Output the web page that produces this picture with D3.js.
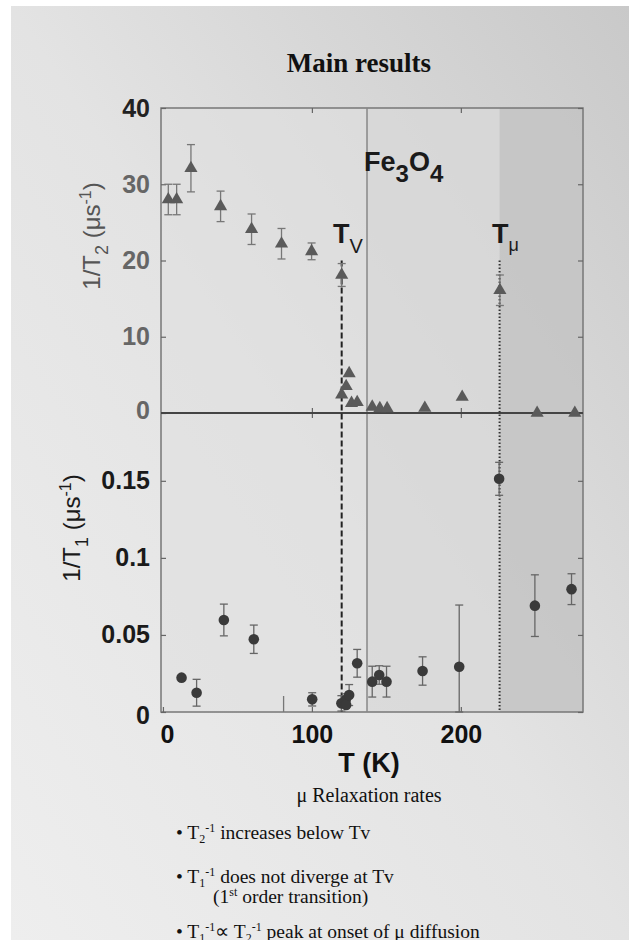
<!DOCTYPE html>
<html>
<head>
<meta charset="utf-8">
<script src="https://cdn.jsdelivr.net/npm/d3@7"></script>
<style>
  body { margin: 0; background: #fff; }
  svg { display: block; }
</style>
</head>
<body>
<div id="chart"></div>
<script>
var width = 629;
var height = 940;

// 1/T2 data (triangles)
var t2Temp = [3.6, 9.2, 18.8, 38.7, 59.5, 79.6, 99.8, 120, 120, 123, 125, 126.6, 130.4, 140.5, 145.6, 150.5, 175.8, 200.9, 226.2, 251.2, 276.5];
var t2Rate = [28, 28, 32.1, 27.1, 24.1, 22.2, 21.2, 18.1, 2.4, 3.5, 5.2, 1.3, 1.4, 0.8, 0.6, 0.6, 0.65, 2.1, 16.1, 0, 0];
var t2Err  = [2, 2, 3.1, 2, 2, 2, 1.1, 1.5, 0, 0, 0, 0, 0, 0, 0, 0, 0, 0, 2, 0, 0];

// 1/T1 data (circles)
var t1Temp  = [12.5, 22.6, 40.9, 61, 100.2, 119.8, 122.7, 123, 125, 130.4, 140.5, 145.2, 150.1, 174.3, 198.9, 225.7, 249.7, 274.3];
var t1Rate  = [0.0223, 0.0125, 0.0597, 0.0472, 0.0082, 0.0056, 0.0078, 0.0045, 0.011, 0.0316, 0.0197, 0.024, 0.0197, 0.0266, 0.0294, 0.1513, 0.069, 0.0797];
var t1ErrLo = [0, 0.0087, 0.0103, 0.0092, 0.0043, 0.005, 0.004, 0, 0.0068, 0.009, 0.01, 0.006, 0.01, 0.0092, 0.0294, 0.0107, 0.02, 0.01];
var t1ErrHi = [0, 0.0087, 0.0103, 0.0092, 0.0043, 0.005, 0.004, 0, 0.0068, 0.009, 0.01, 0.006, 0.01, 0.0092, 0.040, 0.0107, 0.02, 0.01];
// lone error bar with no visible marker
var strayTemp = [81];
var strayHi = [0.0104];

var tV = 120, tMu = 226, tFe = 137;
var xTicks = [0, 100, 200];
var t2Ticks = [0, 10, 20, 30, 40];
var t1Ticks = [0, 0.05, 0.1, 0.15];

var plotLeft = 161, plotRight = 583, plotTop = 108, plotMid = 413, plotBottom = 712;

var svg = d3.select("#chart").append("svg")
    .attr("width", width)
    .attr("height", height);

var defs = svg.append("defs");
var pg = defs.append("linearGradient").attr("id", "page")
    .attr("x1", "0").attr("y1", "1").attr("x2", "1").attr("y2", "0");
pg.append("stop").attr("offset", "0").attr("stop-color", "#eeeeee");
pg.append("stop").attr("offset", "0.5").attr("stop-color", "#e3e3e3");
pg.append("stop").attr("offset", "1").attr("stop-color", "#c9c9c9");

svg.append("rect").attr("width", width).attr("height", height).attr("fill", "#fff");
svg.append("rect").attr("x", 11).attr("y", 6).attr("width", width - 11).attr("height", height - 6)
    .attr("fill", "url(#page)");

var xScale = d3.scaleLinear().domain([-1.3, 282]).range([plotLeft, plotRight]);
var y2Scale = d3.scaleLinear().domain([0, 40]).range([plotMid, plotTop]);
var y1Scale = d3.scaleLinear().domain([0, 0.194]).range([plotBottom, plotMid]);

// plot background
svg.append("rect").attr("x", plotLeft).attr("y", plotTop)
    .attr("width", plotRight - plotLeft).attr("height", plotBottom - plotTop)
    .attr("fill", "#dfdfdf").attr("fill-opacity", 0.6);
svg.append("rect").attr("x", xScale(tFe)).attr("y", plotTop)
    .attr("width", xScale(tMu) - xScale(tFe)).attr("height", plotBottom - plotTop)
    .attr("fill", "#d4d4d4").attr("fill-opacity", 0.5);
svg.append("rect").attr("x", xScale(tMu)).attr("y", plotTop)
    .attr("width", plotRight - xScale(tMu)).attr("height", plotBottom - plotTop)
    .attr("fill", "#bdbdbd").attr("fill-opacity", 0.7);

// frame
svg.append("rect").attr("x", plotLeft).attr("y", plotTop)
    .attr("width", plotRight - plotLeft).attr("height", plotBottom - plotTop)
    .attr("fill", "none").attr("stroke", "#777").attr("stroke-width", 1.5);

// Fe3O4 line
svg.append("line").attr("x1", xScale(tFe)).attr("x2", xScale(tFe))
    .attr("y1", plotTop).attr("y2", plotBottom)
    .attr("stroke", "#888").attr("stroke-width", 1.5);

// axes
var xTop = d3.axisBottom(xScale).tickValues(xTicks.slice(1)).tickSize(5).tickFormat("");
svg.append("g").attr("transform", "translate(0," + plotTop + ")").call(xTop);
var xMid = d3.axisBottom(xScale).tickValues(xTicks.slice(1)).tickSize(10).tickFormat("");
svg.append("g").attr("transform", "translate(0," + (plotMid - 5) + ")").call(xMid);
var xBot = d3.axisTop(xScale).tickValues(xTicks).tickSize(5).tickPadding(12).tickFormat(d3.format("d"));
var xg = svg.append("g").attr("transform", "translate(0," + plotBottom + ")").call(xBot);
xg.selectAll("text").attr("dy", null).attr("y", 31);
xg.selectAll(".tick").filter(function (d) { return d === 0; }).select("text").attr("x", 4);

var y2Left = d3.axisLeft(y2Scale).tickValues(t2Ticks).tickSize(-5).tickPadding(11);
var y2g = svg.append("g").attr("transform", "translate(" + plotLeft + ",0)").call(y2Left);
var y2Right = d3.axisRight(y2Scale).tickValues(t2Ticks).tickSize(-5).tickFormat("");
svg.append("g").attr("transform", "translate(" + plotRight + ",0)").call(y2Right);
var y1Left = d3.axisLeft(y1Scale).tickValues(t1Ticks).tickSize(-5).tickPadding(11)
    .tickFormat(function (d) { return d === 0 ? "0" : String(d); });
var y1g = svg.append("g").attr("transform", "translate(" + plotLeft + ",0)").call(y1Left);
var y1Right = d3.axisRight(y1Scale).tickValues(t1Ticks).tickSize(-5).tickFormat("");
svg.append("g").attr("transform", "translate(" + plotRight + ",0)").call(y1Right);

svg.selectAll(".domain").remove();
svg.selectAll(".tick line").attr("stroke", "#666").attr("stroke-width", 1.2);
svg.selectAll(".tick text")
    .style("font-family", "'Liberation Sans', Arial, sans-serif")
    .style("font-weight", "bold").style("font-size", "25px");
xg.selectAll("text").attr("fill", "#111");
y1g.selectAll("text").attr("fill", "#1a1a1a");
y2g.selectAll("text").attr("fill", "#666");
y2g.selectAll(".tick").filter(function (d) { return d === 40; }).select("text").attr("fill", "#222");
y2g.selectAll(".tick").filter(function (d) { return d === 0; }).select("text").attr("dy", "0.2em");
y1g.selectAll(".tick").filter(function (d) { return d === 0; }).select("text").attr("dy", "0.45em");

// zero line between panels
svg.append("line").attr("x1", plotLeft).attr("x2", plotRight)
    .attr("y1", plotMid).attr("y2", plotMid)
    .attr("stroke", "#444").attr("stroke-width", 1.8);

// Tv dashed and Tmu dotted lines
svg.append("line").attr("x1", xScale(tV)).attr("x2", xScale(tV))
    .attr("y1", y2Scale(20)).attr("y2", plotBottom)
    .attr("stroke", "#222").attr("stroke-width", 2).attr("stroke-dasharray", "6,3");
svg.append("line").attr("x1", xScale(tMu)).attr("x2", xScale(tMu))
    .attr("y1", y2Scale(20)).attr("y2", plotBottom)
    .attr("stroke", "#333").attr("stroke-width", 2).attr("stroke-dasharray", "1.5,2");

// error bars helper
function errBar(g, x, yLo, yHi, color) {
    g.append("line").attr("x1", x).attr("x2", x).attr("y1", yLo).attr("y2", yHi)
        .attr("stroke", color).attr("stroke-width", 1.3);
    [yLo, yHi].forEach(function (yy) {
        g.append("line").attr("x1", x - 4).attr("x2", x + 4).attr("y1", yy).attr("y2", yy)
            .attr("stroke", color).attr("stroke-width", 1.3);
    });
}

var t2Data = t2Temp.map(function (t, i) { return {t: t, v: t2Rate[i], e: t2Err[i]}; });
var t1Data = t1Temp.map(function (t, i) { return {t: t, v: t1Rate[i], lo: t1ErrLo[i], hi: t1ErrHi[i]}; });

var eg = svg.append("g");
t2Data.forEach(function (d) {
    if (d.e > 0) errBar(eg, xScale(d.t), y2Scale(d.v - d.e), y2Scale(d.v + d.e), "#777");
});
t1Data.forEach(function (d) {
    if (d.lo > 0 || d.hi > 0) errBar(eg, xScale(d.t), y1Scale(Math.max(0, d.v - d.lo)), y1Scale(d.v + d.hi), "#666");
});
strayTemp.forEach(function (t, i) {
    eg.append("line").attr("x1", xScale(t)).attr("x2", xScale(t))
        .attr("y1", y1Scale(0)).attr("y2", y1Scale(strayHi[i]))
        .attr("stroke", "#777").attr("stroke-width", 1.3);
});

var tri = d3.symbol().type(d3.symbolTriangle).size(75);
svg.append("g").selectAll("path").data(t2Data).enter().append("path")
    .attr("d", tri)
    .attr("transform", function (d) { return "translate(" + xScale(d.t) + "," + y2Scale(d.v) + ")"; })
    .attr("fill", "#5a5a5a");

svg.append("g").selectAll("circle").data(t1Data).enter().append("circle")
    .attr("cx", function (d) { return xScale(d.t); })
    .attr("cy", function (d) { return y1Scale(d.v); })
    .attr("r", 5.3)
    .attr("fill", "#3a3a3a");

// labels inside plot
var sans = "'Liberation Sans', Arial, sans-serif";
var serif = "'Liberation Serif', 'Times New Roman', serif";

var fe = svg.append("text").attr("x", 364).attr("y", 171)
    .style("font-family", sans).style("font-weight", "bold").style("font-size", "27px").attr("fill", "#1a1a1a");
fe.append("tspan").text("Fe");
fe.append("tspan").text("3").attr("dy", 11).style("font-size", "24px");
fe.append("tspan").text("O").attr("dy", -11);
fe.append("tspan").text("4").attr("dy", 11).style("font-size", "24px");

var tv = svg.append("text").attr("x", 333).attr("y", 243)
    .style("font-family", sans).style("font-weight", "bold").style("font-size", "27px").attr("fill", "#1a1a1a");
tv.append("tspan").text("T");
tv.append("tspan").text("V").attr("dy", 10).style("font-size", "20px").style("font-weight", "normal");

var tm = svg.append("text").attr("x", 492).attr("y", 243)
    .style("font-family", sans).style("font-weight", "bold").style("font-size", "27px").attr("fill", "#1a1a1a");
tm.append("tspan").text("T");
tm.append("tspan").text("μ").attr("dy", 8).style("font-size", "18px").style("font-weight", "normal");

// axis titles
var yl2 = svg.append("text").attr("transform", "translate(100,236) rotate(-90)")
    .attr("text-anchor", "middle").style("font-family", sans).style("font-size", "24px").attr("fill", "#555");
yl2.append("tspan").text("1/T");
yl2.append("tspan").text("2").attr("dy", 8).style("font-size", "18px");
yl2.append("tspan").text(" (μs").attr("dy", -8);
yl2.append("tspan").text("-1").attr("dy", -9).style("font-size", "16px");
yl2.append("tspan").text(")").attr("dy", 9);

var yl1 = svg.append("text").attr("transform", "translate(80,528) rotate(-90)")
    .attr("text-anchor", "middle").style("font-family", sans).style("font-size", "24px").attr("fill", "#1a1a1a");
yl1.append("tspan").text("1/T");
yl1.append("tspan").text("1").attr("dy", 8).style("font-size", "18px");
yl1.append("tspan").text(" (μs").attr("dy", -8);
yl1.append("tspan").text("-1").attr("dy", -9).style("font-size", "16px");
yl1.append("tspan").text(")").attr("dy", 9);

svg.append("text").attr("x", 369).attr("y", 772).attr("text-anchor", "middle")
    .style("font-family", sans).style("font-weight", "bold").style("font-size", "27px").attr("fill", "#111")
    .text("T (K)");

// page text
svg.append("text").attr("x", 359).attr("y", 72).attr("text-anchor", "middle")
    .style("font-family", serif).style("font-weight", "bold").style("font-size", "27px").attr("fill", "#111")
    .text("Main results");

svg.append("text").attr("x", 369).attr("y", 802).attr("text-anchor", "middle")
    .style("font-family", serif).style("font-size", "20px").attr("fill", "#111")
    .text("μ Relaxation rates");

function bullet(x, y, parts) {
    var t = svg.append("text").attr("x", x).attr("y", y)
        .style("font-family", serif).style("font-size", "19.5px").attr("fill", "#111");
    parts.forEach(function (p) {
        var s = t.append("tspan").text(p[0]);
        if (p[1] === "sub") s.attr("dy", 4).style("font-size", "12px");
        if (p[1] === "sup") s.attr("dy", p[2] || -11).style("font-size", "12px");
        if (p[1] === "base") s.attr("dy", p[2]);
    });
}
bullet(176, 839, [["• T"], ["2", "sub"], ["-1", "sup"], [" increases below Tv", "base", 7]]);
bullet(176, 883, [["• T"], ["1", "sub"], ["-1", "sup"], [" does not diverge at Tv", "base", 7]]);
bullet(213, 903, [["(1"], ["st", "sup", -7], [" order transition)", "base", 7]]);
bullet(176, 938, [["• T"], ["1", "sub"], ["-1", "sup"], ["∝ T", "base", 7], ["2", "sub"], ["-1", "sup"], [" peak at onset of μ diffusion", "base", 7]]);
</script>
</body>
</html>
